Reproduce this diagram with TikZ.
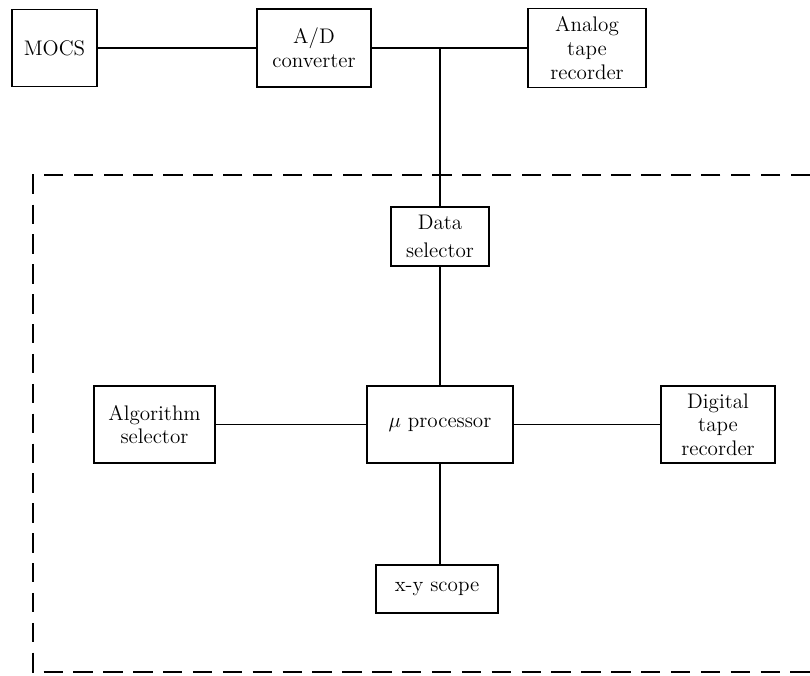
\documentclass[tikz,border=0pt]{standalone}
\usepackage{amsmath, amssymb}
\usetikzlibrary{calc}

\begin{document}
\begin{tikzpicture}[
        font=\fontsize{12}{13.5}\selectfont,
        blk/.style={draw, line width=1.1pt, align=center, inner sep=2pt},
        wire/.style={line width=0.6pt},
        frame/.style={line width=1.1pt, dash pattern=on 11pt off 6pt}
    ]

        \useasboundingbox (0, 0) rectangle (16.2, -13.5);

        % ---------------------------------------------------
        % 1. Top row (outside the frame)
        % ---------------------------------------------------

        \node[blk, minimum width=1.70cm, minimum height=1.54cm] (mocs) at (1.09, -0.96) {MOCS};
        \node[blk, minimum width=2.28cm, minimum height=1.56cm] (adc) at (6.28, -0.96) {A/D\\converter};
        \node[blk, minimum width=2.36cm, minimum height=1.58cm] (atape) at (11.74, -0.96) {Analog\\tape\\recorder};

        % tap point for the line down to the data selector
        \coordinate (tee) at (8.80, -0.96);

        % ---------------------------------------------------
        % 2. Boxes inside the dashed frame
        % ---------------------------------------------------

        \node[blk, minimum width=1.96cm, minimum height=1.18cm] (dsel) at (8.80, -4.73) {Data\\[2pt]selector};
        \node[blk, minimum width=2.42cm, minimum height=1.54cm] (algsel) at (3.09, -8.49) {Algorithm\\selector};
        \node[blk, minimum width=2.92cm, minimum height=1.54cm] (mup) at (8.80, -8.49) {$\mu$ processor};
        \node[blk, minimum width=2.28cm, minimum height=1.54cm] (dtape) at (14.36, -8.49) {Digital\\tape\\recorder};
        \node[blk, minimum width=2.44cm, minimum height=0.96cm] (scope) at (8.74, -11.78) {x-y scope};

        % ---------------------------------------------------
        % 3. Connections
        % ---------------------------------------------------

        \draw[wire] (mocs) -- (adc);
        \draw[wire] (adc) -- (atape);
        \draw[wire] (tee) -- (dsel);
        \draw[wire] (dsel) -- (mup);
        \draw[wire] (algsel) -- (mup);
        \draw[wire] (mup) -- (dtape);
        \draw[wire] (mup.south) -- (mup.south |- scope.north);

        % ---------------------------------------------------
        % 4. Dashed frame (open to the right edge)
        % ---------------------------------------------------

        \draw[frame] (16.2, -3.50) -- (0.66, -3.50) -- (0.66, -13.44) -- (16.2, -13.44);

    \end{tikzpicture}
\end{document}
